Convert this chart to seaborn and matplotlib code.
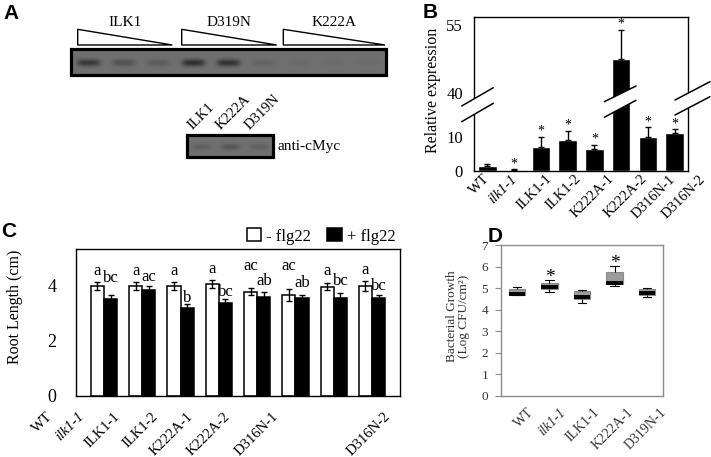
import matplotlib
matplotlib.use("Agg")
import matplotlib.pyplot as plt
import matplotlib.transforms as mtransforms
from matplotlib.patches import Polygon, Rectangle
import numpy as np
import pandas as pd
import seaborn as sns

sns.set_theme(style="white")
plt.rcParams["font.family"] = ["Liberation Serif", "DejaVu Serif"]
plt.rcParams.update({"text.color": "black", "axes.labelcolor": "black",
                     "xtick.color": "black", "ytick.color": "black",
                     "axes.edgecolor": "black", "axes.linewidth": 1.0})

W, H = 711, 457

# ---------------- data ----------------
# A: western blots (relative band darkness per lane)
blot_groups = ["ILK1", "D319N", "K222A"]
blot_bands = [0.85, 0.45, 0.3, 1.0, 0.95, 0.2, 0.1, 0.08, 0.08]
myc_lanes = ["ILK1", "K222A", "D319N"]
myc_bands = [0.25, 0.4, 0.25]

# B: relative expression
b_lines = ["WT", "ilk1-1", "ILK1-1", "ILK1-2", "K222A-1", "K222A-2", "D316N-1", "D316N-2"]
b_expr = [1.6, 0.3, 7.0, 9.1, 6.4, 47.6, 10.1, 11.1]
b_err = [0.5, 0.2, 3.1, 2.7, 1.3, 6.3, 2.8, 1.2]
b_star = [False, True, True, True, True, True, True, True]

# C: root length
c_lines = ["WT", "ilk1-1", "ILK1-1", "ILK1-2", "K222A-1", "K222A-2", "D316N-1", "D316N-2"]
c_treat = ["- flg22", "+ flg22"]
c_minus = [3.96, 3.97, 3.96, 4.04, 3.76, 3.64, 3.94, 3.96]
c_minus_err = [0.15, 0.15, 0.14, 0.14, 0.12, 0.2, 0.12, 0.18]
c_plus = [3.50, 3.82, 3.16, 3.35, 3.58, 3.52, 3.53, 3.52]
c_plus_err = [0.14, 0.13, 0.15, 0.15, 0.18, 0.11, 0.19, 0.12]
c_minus_letters = ["a", "a", "a", "a", "ac", "ac", "a", "a"]
c_plus_letters = ["bc", "ac", "b", "bc", "ab", "ab", "bc", "bc"]

# D: bacterial growth (low whisker, Q1, median, Q3, high whisker)
d_lines = ["WT", "ilk1-1", "ILK1-1", "K222A-1", "D319N-1"]
d_wt = [4.66, 4.68, 4.72, 4.94, 5.06]
d_ilk1 = [4.83, 4.95, 5.05, 5.22, 5.37]
d_ILK1 = [4.32, 4.49, 4.60, 4.86, 4.90]
d_k222a = [5.09, 5.19, 5.25, 5.76, 6.02]
d_d319n = [4.60, 4.66, 4.78, 4.95, 5.02]
d_star = [False, True, False, True, False]

# letter gaps above error bars in C (px), as placed in the original figure
c_minus_gap = [7, 7, 7, 7, 18, 19, 8, 7]
c_plus_gap = [13, 5, 2.5, 3, 7, 8.5, 8, 5]

# ---------------- layout helpers ----------------
fig = plt.figure(figsize=(W / 100, H / 100), dpi=100)


def px_axes(x0, y0, x1, y1):
    return fig.add_axes([x0 / W, 1 - y1 / H, (x1 - x0) / W, (y1 - y0) / H])


def shift_labels(ax, dxs):
    for lab, dx in zip(ax.get_xticklabels(), dxs):
        lab.set_transform(lab.get_transform() +
                          mtransforms.ScaledTranslation(dx / 100, 0, fig.dpi_scale_trans))
        if lab.get_text() == "ilk1-1":
            lab.set_fontstyle("italic")


# ---------------- B ----------------
axB = px_axes(474, 17, 688, 171)
sns.barplot(x=b_lines, y=b_expr, color="black", saturation=1, width=0.69,
            errorbar=None, ax=axB)
axB.errorbar(range(len(b_lines)), b_expr, yerr=[np.zeros(len(b_err)), b_err],
             fmt="none", ecolor="black", elinewidth=1, capsize=2.5, capthick=1)
# broken axis: piecewise linear y scale (values -> pixels above the x axis)
brk_v = [-10, 0, 15, 40, 80]
brk_p = [-34, 0, 51, 78, 78 + 40 * 68 / 15]
axB.set_yscale("function", functions=(lambda v: np.interp(v, brk_v, brk_p),
                                      lambda p: np.interp(p, brk_p, brk_v)))
axB.set_ylim(0, 40 + (154 - 78) * 15 / 68)
axB.set_xlim(-0.5, len(b_lines) - 0.5)
axB.set_yticks([0, 10, 40, 55])
axB.tick_params(axis="y", length=0, pad=8, labelsize=12)
axB.tick_params(axis="x", length=0, pad=1, labelsize=10.5)
plt.setp(axB.get_xticklabels(), rotation=45, ha="right", rotation_mode="anchor")
axB.set_ylabel("Relative expression", fontsize=11.5)
axB.yaxis.set_label_coords(-0.155, 0.526)
for i, s in enumerate(b_star):
    if s:
        axB.annotate("*", (i, b_expr[i] + b_err[i]), xytext=(0, 1.5),
                     textcoords="offset points", ha="center", va="baseline", fontsize=10)
for sp in axB.spines.values():
    sp.set_visible(True)
    sp.set_color("black")

# ---------------- C ----------------
axC = px_axes(76, 249, 400, 396)
c_df = pd.DataFrame({"line": c_lines * 2,
                     "treat": [c_treat[0]] * len(c_lines) + [c_treat[1]] * len(c_lines),
                     "length": c_minus + c_plus})
sns.barplot(data=c_df, x="line", y="length", hue="treat", hue_order=c_treat,
            palette={c_treat[0]: "white", c_treat[1]: "black"}, saturation=1,
            edgecolor="black", linewidth=1.1, width=0.69, gap=0, errorbar=None, ax=axC)
for cont, errs, letters, gaps in zip(axC.containers, [c_minus_err, c_plus_err],
                                     [c_minus_letters, c_plus_letters],
                                     [c_minus_gap, c_plus_gap]):
    xs = [p.get_x() + p.get_width() / 2 for p in cont]
    hs = [p.get_height() for p in cont]
    axC.errorbar(xs, hs, yerr=errs, fmt="none", ecolor="black", elinewidth=1,
                 capsize=2.5, capthick=1)
    for x, h, e, t, g in zip(xs, hs, errs, letters, gaps):
        axC.annotate(t, (x, h + e), xytext=(0, g * 0.72), textcoords="offset points",
                     ha="center", va="baseline", fontsize=12)
axC.set_ylim(0, 5.3)
axC.set_yticks([0, 2, 4])
axC.tick_params(axis="y", length=0, pad=14, labelsize=13)
axC.tick_params(axis="x", length=0, pad=10, labelsize=10.5)
plt.setp(axC.get_xticklabels(), rotation=45, ha="right", rotation_mode="anchor")
axC.set_xlabel("")
axC.set_ylabel("Root Length (cm)", fontsize=11.5)
axC.yaxis.set_label_coords(-0.165, 0.61)
for sp in axC.spines.values():
    sp.set_visible(True)
    sp.set_color("black")
leg = axC.legend(loc="lower right", bbox_to_anchor=(0.985, 1.03), ncol=2, frameon=False,
                 fontsize=12, handlelength=0.85, handleheight=0.85, handletextpad=0.3,
                 columnspacing=1.0, borderaxespad=0, borderpad=0)

# ---------------- D ----------------
axD = px_axes(500.7, 245, 663.3, 396)
d_df = pd.DataFrame({"line": np.repeat(d_lines, 5),
                     "cfu": np.concatenate([d_wt, d_ilk1, d_ILK1, d_k222a, d_d319n])})
sns.boxplot(data=d_df, x="line", y="cfu", order=d_lines, color="#9b9b9b", saturation=1,
            width=0.51, showfliers=False, linecolor="black", linewidth=0.8, ax=axD,
            boxprops=dict(facecolor="#9b9b9b", edgecolor="#8a8a8a"),
            medianprops=dict(color="black", linewidth=2.8),
            whiskerprops=dict(color="black", linewidth=0.8),
            capprops=dict(color="black", linewidth=0.8))
for i, s in enumerate(d_star):
    if s:
        axD.annotate("*", (i, [d_wt, d_ilk1, d_ILK1, d_k222a, d_d319n][i][4]),
                     xytext=(0, -1.5), textcoords="offset points",
                     ha="center", va="baseline", fontsize=14)
axD.set_ylim(0, 7)
axD.set_yticks(range(8))
axD.set_xlabel("")
axD.set_ylabel("Bacterial Growth\n(Log CFU/cm²)", fontsize=9.5, color="#333333",
               linespacing=1.0)
axD.yaxis.set_label_coords(-0.19, 0.526)
axD.tick_params(axis="y", left=True, length=4, width=0.8, color="#8c8c8c", pad=5,
                labelsize=9.5, labelcolor="#333333")
axD.tick_params(axis="x", length=0, pad=7, labelsize=10, labelcolor="#333333")
plt.setp(axD.get_xticklabels(), rotation=45, ha="right", rotation_mode="anchor")
for sp in axD.spines.values():
    sp.set_visible(True)
    sp.set_color("#8c8c8c")
    sp.set_linewidth(1)

shift_labels(axB, [-4, -4, 4, 7, 13, 19, 21, 24])
shift_labels(axC, [-58, -65, -67, -68, -71, -72, -62, 12])
shift_labels(axD, [10, 10, 11, 12, 13])

# ---------------- overlay canvas (pixel coordinates) ----------------
cv = fig.add_axes([0, 0, 1, 1], zorder=10)
cv.patch.set_alpha(0)
cv.axis("off")


def draw_blot(x0, x1, y0, y1, bands, yfrac):
    nx, ny = int((x1 - x0) * 2), int((y1 - y0) * 2)
    xx = np.linspace(0, 1, nx)
    yy = np.linspace(0, 1, ny)
    img = np.full((ny, nx), 0.44)
    n = len(bands)
    for k, v in enumerate(bands):
        px_ = np.exp(-((xx - (k + 0.5) / n) / (0.33 / n)) ** 4)
        py_ = np.exp(-((yy - yfrac) / 0.14) ** 2)
        img -= 0.26 * v * np.outer(py_, px_)
    cv.imshow(img, cmap="gray", vmin=0, vmax=1, extent=(x0, x1, y1, y0),
              aspect="auto", interpolation="bilinear")
    cv.add_patch(Rectangle((x0, y0), x1 - x0, y1 - y0, fill=False, ec="black", lw=2.3))


draw_blot(71, 386, 49, 75, blot_bands, 0.53)
tri_x = [(77.7, 172.3), (181.7, 276.7), (283.3, 385)]
for (x0, x1), name in zip(tri_x, blot_groups):
    cv.add_patch(Polygon([(x0, 45), (x0, 29.3), (x1, 45)], closed=True,
                         fc="white", ec="black", lw=1))
    cv.text((x0 + x1) / 2, 22.5, name, ha="center", va="center", fontsize=11)

draw_blot(186.7, 273.3, 135, 156.7, myc_bands, 0.54)
for k, name in enumerate(myc_lanes):
    cx = 186.7 + (273.3 - 186.7) * (k + 0.5) / len(myc_lanes)
    cv.text(cx - 7, 132, name, rotation=45, rotation_mode="anchor",
            ha="left", va="bottom", fontsize=10.5)
cv.text(277, 146.5, "anti-cMyc", ha="left", va="center", fontsize=11)

# break marks for panel B
for (xa, ya1, ya2), (xb, yb1, yb2) in [((461.7, 106, 121.7), (493.3, 87.7, 103.3)),
                                        ((604.3, 101.7, 117.3), (636, 86, 100.3)),
                                        ((675, 100, 115), (710, 81.7, 96.7))]:
    cv.add_patch(Polygon([(xa, ya1), (xb, yb1), (xb, yb2), (xa, ya2)], closed=True,
                         fc="white", ec="none"))
    cv.plot([xa, xb], [ya1, yb1], color="black", lw=1.1)
    cv.plot([xa, xb], [ya2, yb2], color="black", lw=1.1)

cv.set_xlim(0, W)
cv.set_ylim(H, 0)

# panel letters
for lab, x, y in [("A", 3, 4), ("B", 423, 3), ("C", 1, 222), ("D", 488, 227)]:
    fig.text(x / W, 1 - y / H, lab, ha="left", va="top", fontsize=15,
             fontweight="bold", family=["Liberation Sans", "DejaVu Sans"])

fig.savefig("out.png", dpi=100)
